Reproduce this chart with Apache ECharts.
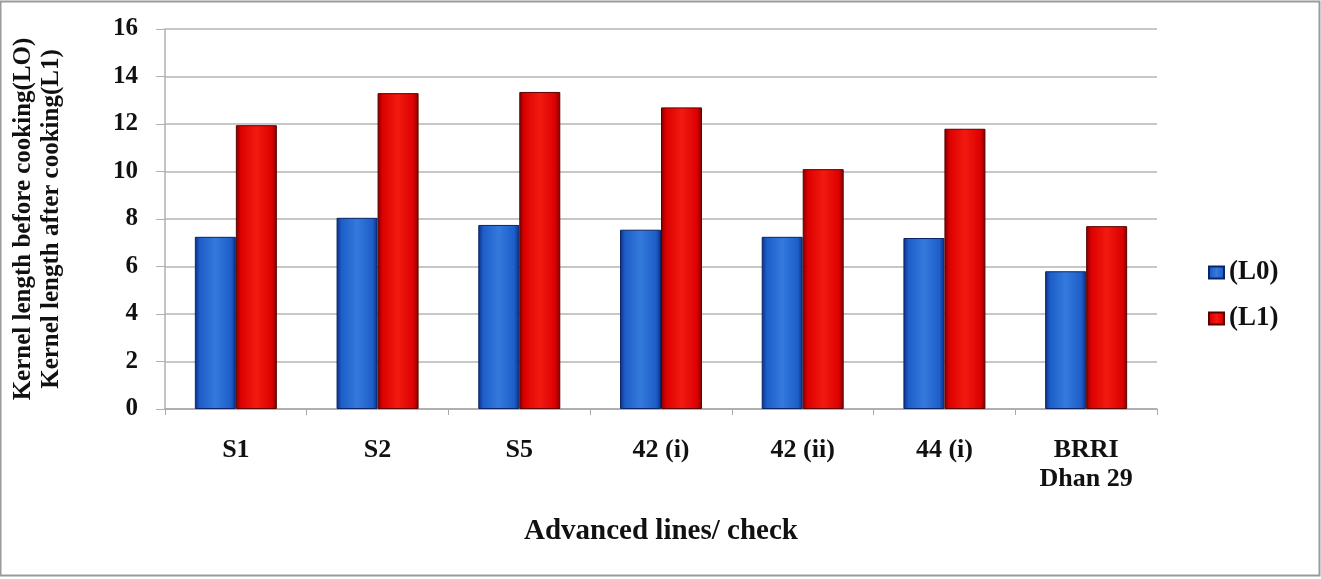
<!DOCTYPE html>
<html>
<head>
<meta charset="utf-8">
<style>
  html, body { margin: 0; padding: 0; background: #fff; }
  #chart { width: 1321px; height: 579px; }
</style>
<script src="https://cdn.jsdelivr.net/npm/echarts@6/dist/echarts.min.js"></script>
</head>
<body>
<div id="chart"></div>
<script>
// Advanced lines and check variety
const categories = ['S1', 'S2', 'S5', '42 (i)', '42 (ii)', '44 (i)', 'BRRI\nDhan 29'];
// Kernel length before cooking (L0)
const lengthBefore = [7.25, 8.05, 7.75, 7.55, 7.25, 7.2, 5.8];
// Kernel length after cooking (L1)
const lengthAfter = [11.95, 13.3, 13.35, 12.7, 10.1, 11.8, 7.7];
const yTicks = { min: 0, max: 16, interval: 2 };

const font = 'Liberation Serif';

function barFill(edge, mid, light) {
  return new echarts.graphic.LinearGradient(0, 0, 1, 0, [
    { offset: 0, color: edge },
    { offset: 0.12, color: mid },
    { offset: 0.5, color: light },
    { offset: 0.88, color: mid },
    { offset: 1, color: edge }
  ]);
}

const chart = echarts.init(document.getElementById('chart'), null, { renderer: 'canvas' });
chart.setOption({
  backgroundColor: '#ffffff',
  animation: false,
  graphic: [{
    type: 'rect',
    shape: { x: 0.5, y: 1.5, width: 1319, height: 574 },
    style: { fill: 'none', stroke: '#9a9a9a', lineWidth: 2 },
    silent: true
  }],
  grid: { left: 165, right: 164, top: 29, bottom: 170, containLabel: false, outerBoundsMode: 'none' },
  legend: {
    orient: 'vertical',
    left: 1203,
    top: 252,
    itemWidth: 15,
    itemHeight: 12,
    itemGap: 15,
    icon: 'rect',
    textStyle: { fontFamily: font, fontWeight: 'bold', fontSize: 27, lineHeight: 27, color: '#111', padding: [4, 0, 0, 0] },
    data: ['(L0)', '(L1)']
  },
  xAxis: {
    type: 'category',
    data: categories,
    name: 'Advanced lines/ check',
    nameLocation: 'middle',
    nameGap: 108,
    nameTextStyle: { fontFamily: font, fontWeight: 'bold', fontSize: 29, color: '#111' },
    axisLine: { lineStyle: { color: '#a8a8a8', width: 1.5 } },
    axisTick: { show: true, length: 6, lineStyle: { color: '#a8a8a8' } },
    axisLabel: {
      fontFamily: font, fontWeight: 'bold', fontSize: 26, color: '#111',
      margin: 27, lineHeight: 29
    }
  },
  yAxis: {
    type: 'value',
    min: yTicks.min,
    max: yTicks.max,
    interval: yTicks.interval,
    name: 'Kernel length before cooking(LO)\nKernel length after cooking(L1)',
    nameLocation: 'middle',
    nameRotate: 90,
    nameGap: 99,
    nameTextStyle: { fontFamily: font, fontWeight: 'bold', fontSize: 25, color: '#111', lineHeight: 28 },
    axisLine: { show: true, lineStyle: { color: '#b0b0b0', width: 1.5 } },
    axisTick: { show: true, length: 9, lineStyle: { color: '#b0b0b0' } },
    splitLine: { show: true, lineStyle: { color: '#b4b4b4', width: 1.5 } },
    axisLabel: { fontFamily: font, fontWeight: 'bold', fontSize: 25, color: '#111', margin: 27 }
  },
  series: [
    {
      name: '(L0)',
      type: 'bar',
      data: lengthBefore,
      barWidth: 41,
      barGap: '0%',
      color: '#1f62cc',
      itemStyle: {
        color: barFill('#0b2f86', '#1d5ec8', '#3479dc'),
        borderColor: '#0a2466',
        borderWidth: 1
      }
    },
    {
      name: '(L1)',
      type: 'bar',
      data: lengthAfter,
      barWidth: 41,
      color: '#e00808',
      itemStyle: {
        color: barFill('#7e0000', '#dc0000', '#f21a10'),
        borderColor: '#5a0000',
        borderWidth: 1
      }
    }
  ]
});
</script>
</body>
</html>
